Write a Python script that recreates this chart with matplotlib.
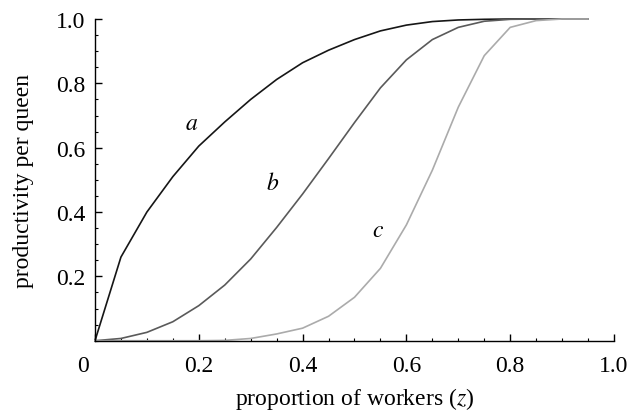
"""Productivity per queen against proportion of workers."""

import matplotlib

matplotlib.use("Agg")
import matplotlib.pyplot as plt
import matplotlib.transforms as mtransforms
from matplotlib.ticker import FixedLocator, MultipleLocator

plt.rcParams["font.family"] = ["Liberation Serif", "DejaVu Serif"]
plt.rcParams["mathtext.fontset"] = "stix"

z = [0.0, 0.05, 0.10, 0.15, 0.20, 0.25, 0.30, 0.35, 0.40, 0.45,
     0.50, 0.55, 0.60, 0.65, 0.70, 0.75, 0.80, 0.85, 0.90, 0.95]
curve_a = [0.0, 0.26, 0.40, 0.51, 0.605, 0.68, 0.75, 0.812, 0.864, 0.903,
           0.936, 0.963, 0.981, 0.992, 0.997, 0.999, 1.0, 1.0, 1.0, 1.0]
curve_b = [0.0, 0.007, 0.026, 0.059, 0.109, 0.173, 0.254, 0.352, 0.456, 0.566,
           0.678, 0.786, 0.873, 0.936, 0.974, 0.993, 0.999, 1.0, 1.0, 1.0]
curve_c = [0.0, 0.0, 0.0, 0.0, 0.0, 0.001, 0.007, 0.021, 0.039, 0.076,
           0.135, 0.225, 0.36, 0.53, 0.726, 0.886, 0.974, 0.995, 1.0, 1.0]

labels = ["a", "b", "c"]
label_pos = [(0.186, 0.674), (0.343, 0.49), (0.545, 0.342)]
colors = ["#161616", "#5a5a5a", "#ababab"]

fig = plt.figure(figsize=(6.44, 4.14), dpi=100)
ax = fig.add_axes([0.1475, 0.1746, 0.8059, 0.7771])

for ys, col in zip([curve_a, curve_b, curve_c], colors):
    ax.plot(z, ys, color=col, linewidth=1.2, clip_on=False)

for lab, (lx, ly) in zip(labels, label_pos):
    ax.text(lx, ly, f"${lab}$", fontsize=17, ha="center", va="center")

ax.set_xlim(0, 1.0)
ax.set_ylim(0, 1.0)
for side in ("top", "right"):
    ax.spines[side].set_visible(False)
for side in ("left", "bottom"):
    ax.spines[side].set_linewidth(1.0)

ax.xaxis.set_major_locator(FixedLocator([0, 0.2, 0.4, 0.6, 0.8, 1.0]))
ax.set_xticklabels(["0", "0.2", "0.4", "0.6", "0.8", "1.0"])
ax.yaxis.set_major_locator(FixedLocator([0.2, 0.4, 0.6, 0.8, 1.0]))
ax.set_yticklabels(["0.2", "0.4", "0.6", "0.8", "1.0"])
ax.xaxis.set_minor_locator(MultipleLocator(0.05))
ax.yaxis.set_minor_locator(MultipleLocator(0.05))
ax.tick_params(which="major", direction="in", length=5, width=1.0, labelsize=17, pad=7)
ax.tick_params(axis="x", which="major", pad=10)
ax.tick_params(which="minor", direction="in", length=2.5, width=0.8)

# origin label sits a little left of the axis corner
zero = ax.get_xticklabels()[0]
zero.set_transform(zero.get_transform() + mtransforms.ScaledTranslation(-0.12, 0, fig.dpi_scale_trans))

ax.set_xlabel("proportion of workers ($z$)", fontsize=17, labelpad=7)
ax.set_ylabel("productivity per queen", fontsize=17, labelpad=16)

fig.savefig("out.png", dpi=100)
